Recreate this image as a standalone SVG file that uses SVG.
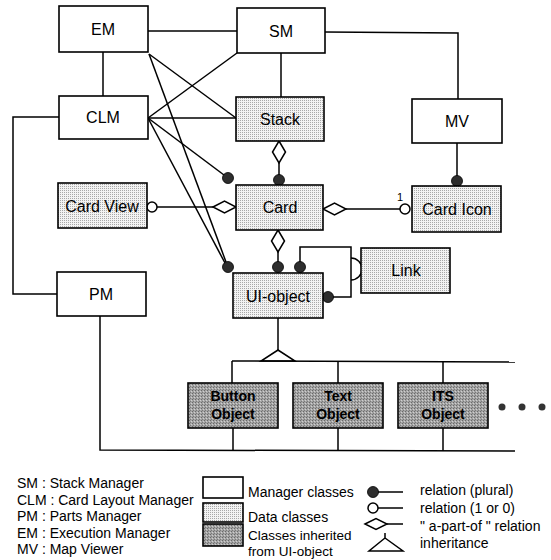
<svg xmlns="http://www.w3.org/2000/svg" width="551" height="560" viewBox="0 0 551 560">
  <defs>
    <pattern id="dots" width="2" height="2" patternUnits="userSpaceOnUse">
      <rect width="2" height="2" fill="#f3f3f3"/>
      <rect width="1" height="1" fill="#a8a8a8"/>
    </pattern>
    <pattern id="dark" width="3" height="3" patternUnits="userSpaceOnUse">
      <rect width="3" height="3" fill="#a4a4a4"/>
      <rect width="1" height="1" fill="#6a6a6a"/>
      <rect x="2" y="1" width="1" height="1" fill="#cfcfcf"/>
      <rect x="1" y="2" width="1" height="1" fill="#7a7a7a"/>
    </pattern>
    <style>
      .box { stroke: #000; stroke-width: 1.6; }
      .mgr { fill: #fff; }
      .data { fill: url(#dots); }
      .inh { fill: url(#dark); }
      .lbl { font-family: "Liberation Sans", Arial, sans-serif; font-size: 16px; fill: #000; text-anchor: middle; }
      .sub { font-family: "Liberation Sans", Arial, sans-serif; font-size: 14px; font-weight: bold; fill: #000; text-anchor: middle; }
      .leg { font-family: "Liberation Sans", Arial, sans-serif; font-size: 14px; fill: #000; }
      .ln { fill: none; stroke: #000; stroke-width: 1.5; }
      .many { fill: #2e2e2e; stroke: #000; stroke-width: 0.8; }
      .one { fill: #fff; stroke: #000; stroke-width: 1.5; }
      .part { fill: #fff; stroke: #000; stroke-width: 1.5; }
    </style>
  </defs>

  <rect width="551" height="560" fill="#fff"/>

  <!-- connectors -->
  <g id="connectors">
    <!-- managers -->
    <line class="ln" x1="148" y1="31" x2="237" y2="31"/>
    <line class="ln" x1="103" y1="52" x2="103" y2="96"/>
    <polyline class="ln" points="325,32 458,33 458,99"/>
    <line class="ln" x1="281" y1="53" x2="281" y2="97"/>
    <polyline class="ln" points="59,117 13,117 13,294 57,294"/>
    <polyline class="ln" points="100,316 100,450 515,451"/>

    <!-- EM relations -->
    <line class="ln" x1="149" y1="54" x2="236" y2="118"/>
    <line class="ln" x1="149" y1="54" x2="226" y2="262"/>

    <!-- CLM relations -->
    <line class="ln" x1="148" y1="118" x2="237" y2="53"/>
    <line class="ln" x1="148" y1="118" x2="236" y2="118"/>
    <line class="ln" x1="148" y1="118" x2="224" y2="175"/>
    <line class="ln" x1="148" y1="118" x2="225" y2="263"/>
    <circle class="many" cx="228" cy="178" r="5.5"/>
    <circle class="many" cx="228" cy="267" r="5.5"/>

    <!-- Stack part-of Card -->
    <line class="ln" x1="279" y1="163" x2="279" y2="176"/>
    <path class="part" d="M279,141 L285.5,152 L279,163 L272.5,152 Z"/>
    <circle class="many" cx="279" cy="180" r="5.5"/>

    <!-- Card View to Card -->
    <line class="ln" x1="157" y1="207" x2="213" y2="207"/>
    <circle class="one" cx="152" cy="207" r="5"/>
    <path class="part" d="M213,207 L224.5,201 L236,207 L224.5,213 Z"/>

    <!-- Card to Card Icon -->
    <line class="ln" x1="346" y1="209" x2="400" y2="209"/>
    <path class="part" d="M323,209 L334.5,203 L346,209 L334.5,215 Z"/>
    <circle class="one" cx="405" cy="209" r="5"/>
    <text class="leg" x="397" y="201" style="font-size:11px">1</text>

    <!-- MV to Card Icon -->
    <line class="ln" x1="457" y1="143" x2="457" y2="177"/>
    <circle class="many" cx="457" cy="181" r="5.5"/>

    <!-- Card to UI-object -->
    <line class="ln" x1="278" y1="252" x2="278" y2="263"/>
    <path class="part" d="M278,230 L284.5,241 L278,252 L271.5,241 Z"/>
    <circle class="many" cx="278" cy="267" r="5.5"/>

    <!-- UI-object to Link -->
    <polyline class="ln" points="300,263 300,247 351,247 351,297 333,297"/>
    <path class="ln" d="M351,258 A11,11 0 0 1 351,280"/>
    <circle class="many" cx="300" cy="267" r="5.5"/>
    <circle class="many" cx="328" cy="297" r="5.5"/>

    <!-- inheritance -->
    <line class="ln" x1="278" y1="318" x2="278" y2="350"/>
    <path class="ln" d="M278,350 L261,361 L295,361 Z" fill="#fff"/>
    <line class="ln" x1="232" y1="361" x2="515" y2="362"/>
    <line class="ln" x1="232" y1="361" x2="232" y2="383"/>
    <line class="ln" x1="338" y1="362" x2="338" y2="383"/>
    <line class="ln" x1="443" y1="362" x2="443" y2="383"/>
    <line class="ln" x1="233" y1="428" x2="233" y2="451"/>
    <line class="ln" x1="338" y1="428" x2="338" y2="451"/>
    <line class="ln" x1="443" y1="428" x2="443" y2="451"/>
  </g>

  <!-- manager classes -->
  <g id="em"><rect class="box mgr" x="59" y="6" width="89" height="46"/><text class="lbl" x="103" y="35">EM</text></g>
  <g id="sm"><rect class="box mgr" x="237" y="8" width="88" height="45"/><text class="lbl" x="281" y="37">SM</text></g>
  <g id="clm"><rect class="box mgr" x="59" y="96" width="89" height="43"/><text class="lbl" x="103" y="123">CLM</text></g>
  <g id="mv"><rect class="box mgr" x="412" y="99" width="90" height="44"/><text class="lbl" x="457" y="127">MV</text></g>
  <g id="pm"><rect class="box mgr" x="57" y="272" width="89" height="44"/><text class="lbl" x="101" y="300">PM</text></g>

  <!-- data classes -->
  <g id="stack"><rect class="box data" x="236" y="97" width="88" height="44"/><text class="lbl" x="280" y="125">Stack</text></g>
  <g id="card"><rect class="box data" x="236" y="185" width="87" height="45"/><text class="lbl" x="280" y="213">Card</text></g>
  <g id="cardview"><rect class="box data" x="58" y="183" width="89" height="45"/><text class="lbl" x="102" y="212">Card View</text></g>
  <g id="cardicon"><rect class="box data" x="412" y="186" width="89" height="46"/><text class="lbl" x="457" y="215">Card Icon</text></g>
  <g id="link"><rect class="box data" x="361" y="248" width="89" height="45"/><text class="lbl" x="406" y="276">Link</text></g>
  <g id="uiobject"><rect class="box data" x="233" y="273" width="90" height="45"/><text class="lbl" x="278" y="302">UI-object</text></g>

  <!-- classes inherited from UI-object -->
  <g id="button"><rect class="box inh" x="188" y="383" width="90" height="45"/><text class="sub" x="233" y="401">Button</text><text class="sub" x="233" y="419">Object</text></g>
  <g id="text"><rect class="box inh" x="293" y="383" width="90" height="45"/><text class="sub" x="338" y="401">Text</text><text class="sub" x="338" y="419">Object</text></g>
  <g id="its"><rect class="box inh" x="398" y="383" width="90" height="45"/><text class="sub" x="443" y="401">ITS</text><text class="sub" x="443" y="419">Object</text></g>
  <g id="more">
    <circle cx="502" cy="407" r="3.5" fill="#333"/>
    <circle cx="522" cy="407" r="3.5" fill="#333"/>
    <circle cx="542" cy="407" r="3.5" fill="#333"/>
  </g>

  <!-- legend -->
  <g id="legend">
    <text class="leg" x="17" y="488">SM : Stack Manager</text>
    <text class="leg" x="17" y="505">CLM : Card Layout Manager</text>
    <text class="leg" x="17" y="521">PM : Parts Manager</text>
    <text class="leg" x="17" y="538">EM : Execution Manager</text>
    <text class="leg" x="17" y="554">MV : Map Viewer</text>

    <rect class="box mgr" x="203" y="477" width="40" height="21"/>
    <rect class="box data" x="203" y="503" width="40" height="19"/>
    <rect class="box inh" x="203" y="524" width="40" height="22"/>
    <text class="leg" x="248" y="497">Manager classes</text>
    <text class="leg" x="248" y="522">Data classes</text>
    <text class="leg" x="248" y="540" style="font-size:13.5px">Classes inherited</text>
    <text class="leg" x="248" y="556" style="font-size:13.5px">from UI-object</text>

    <line class="ln" x1="378" y1="492" x2="403" y2="492"/>
    <circle class="many" cx="373" cy="492" r="5.5"/>
    <line class="ln" x1="378" y1="508" x2="403" y2="508"/>
    <circle class="one" cx="373" cy="508" r="5"/>
    <line class="ln" x1="387" y1="524" x2="403" y2="524"/>
    <path class="part" d="M365,524 L376,518.5 L387,524 L376,529.5 Z"/>
    <path class="ln" d="M385,533 L385,538 L369,551 L403,551 L385,538"/>
    <text class="leg" x="420" y="495">relation (plural)</text>
    <text class="leg" x="420" y="513">relation (1 or 0)</text>
    <text class="leg" x="420" y="531">" a-part-of " relation</text>
    <text class="leg" x="420" y="548">inheritance</text>
  </g>
</svg>
